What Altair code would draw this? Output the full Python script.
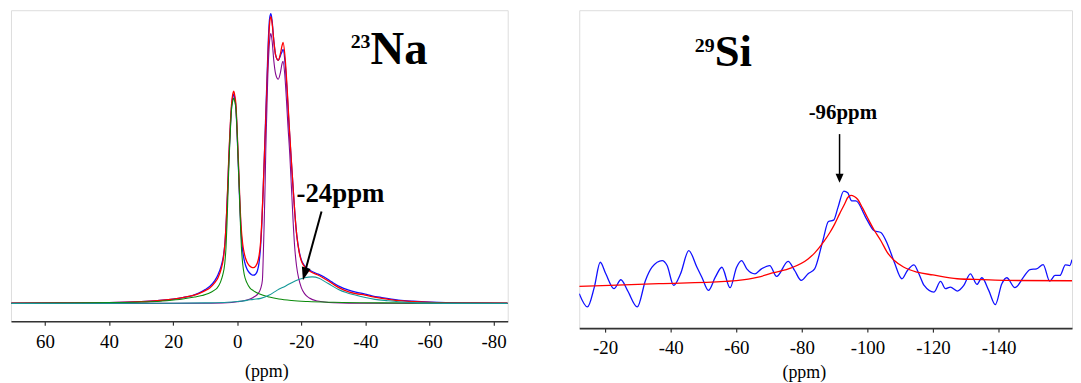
import altair as alt
import pandas as pd

FONT = "Liberation Serif"

# ---------------- 23Na panel (chemical shift in ppm, intensity a.u.) ----------------
na_ppm = [70.5, 55, 40, 30, 25, 20, 17, 14, 12, 10, 8.5, 7, 6, 5, 4.3, 3.8, 3.4, 3.0, 2.6, 2.2,
          1.8, 1.4, 1.1, 0.8, 0.4, 0.0, -0.4, -0.8, -1.2, -1.7, -2.3, -3.0, -3.8, -4.5, -5.06, -5.7,
          -6.3, -6.8, -7.3, -7.7, -8.1, -8.5, -8.9, -9.3, -9.7, -10.1, -10.5, -10.9, -11.4, -12.0,
          -12.8, -13.5, -14.0, -14.3, -15.0, -15.6, -16.2, -16.8, -17.4, -18.0, -18.6, -19.3, -20.0,
          -21.0, -22.0, -23.5, -25, -27, -29.6, -32, -34.8, -37, -39.9, -42, -45.1, -50.3, -55,
          -60.5, -70, -84.4]
na_fit_total = [0.3, 0.5, 0.9, 1.8, 2.8, 4.5, 6, 8, 10, 13, 16, 21, 26, 35, 46, 62, 85, 115, 150, 178,
                200, 211, 214, 210, 200, 172, 140, 105, 78, 60, 49, 42, 38, 36.5, 36.2, 37.5,
                41, 48, 62, 85, 115, 150, 185, 222, 258, 282, 289, 282, 265, 250,
                245, 252, 260, 263, 245, 215, 180, 148, 118, 90, 68, 52, 43,
                37, 34, 31, 29, 25.5, 20.2, 15.5, 11.8, 10, 8.5, 7, 5.2, 2.8, 2,
                1.2, 0.6, 0.3]
na_experimental = [0.3, 0.5, 0.9, 1.8, 2.8, 4.5, 6, 8, 10.5, 14, 17.5, 23, 29, 38, 48, 62, 84, 113, 147, 175,
                   197, 208, 211, 207, 197, 168, 135, 100, 72, 53, 42, 35, 31, 29, 28.5, 29.5,
                   33, 41, 58, 82, 115, 152, 190, 228, 265, 287, 292, 284, 265, 250,
                   245, 250, 254, 256, 240, 212, 178, 147, 118, 90, 68, 53, 44,
                   38, 35, 32, 30, 27, 21.5, 17, 13.5, 11.5, 9.5, 7.8, 6, 3.5, 2.3,
                   1.4, 0.6, 0.3]

na_site1_ppm = [70.5, 55, 40, 30, 22, 17, 13.3, 11, 9, 7.1, 6.3, 5.3, 4.5, 3.9, 3.5, 3.2, 2.9, 2.57,
                2.2, 1.8, 1.4, 1.1, 0.8, 0.4, 0.0, -0.3, -0.7, -1.0, -1.3, -1.7, -2.2, -3.0, -4.0,
                -5.0, -7.0, -10, -13, -17, -22, -30, -45, -84.4]
na_site1_int = [0.3, 0.5, 0.9, 1.5, 2.8, 4.5, 6.5, 8, 10, 13.5, 15.5, 21, 29, 40, 57, 80, 110, 143,
                170, 195, 204, 207, 204, 195, 170, 143, 110, 80, 57, 40, 29, 21, 15.5,
                13, 9.5, 6.5, 4.5, 3, 2, 1.2, 0.6, 0.2]

na_site2_ppm = [70.5, 30, 10, 3, 0, -2, -4, -5.3, -6.5, -7.3, -7.85, -8.1, -8.4, -8.7, -8.9, -9.2,
                -9.5, -9.9, -10.2, -10.5, -10.9, -11.4, -12.0, -12.8, -13.5, -14.0, -14.3, -14.8,
                -15.3, -15.8, -16.4, -16.9, -17.4, -17.9, -18.5, -19.2, -20.0, -21.0, -22.5, -25,
                -30, -40, -84.4]
na_site2_int = [0, 0.1, 0.3, 0.8, 1.8, 2.8, 4.5, 6.8, 10, 15, 23.5, 45, 80, 120, 153, 190,
                225, 255, 268, 272, 264, 245, 231, 226, 233, 242, 244, 232,
                208, 180, 150, 118, 85, 58, 38, 25, 16, 10, 5.5, 2.5,
                0.8, 0.2, 0]

na_site3_ppm = [70.5, 20, 10, 3, 0, -3, -5, -7.35, -10, -12.5, -15, -17, -19.2, -21, -23.4, -25.5,
                -27.5, -29.5, -31.6, -34, -36.8, -40, -43, -47, -50.3, -55, -60.5, -70, -84.4]
na_site3_int = [0, 0.3, 0.6, 1.2, 2, 3.2, 4.2, 5.2, 8.5, 13.5, 17.5, 21, 24.2, 26, 26.8, 25.5,
                21.8, 18, 14.2, 11, 8.5, 6, 4.2, 2.8, 1.8, 0.9, 0.4, 0.1, 0]

na_ticks = [60, 40, 20, 0, -20, -40, -60, -80]

# ---------------- 29Si panel ----------------
si_exp_ppm = [-12.1, -14.6, -16.7, -18.5, -20.2, -22.7, -24.8, -26.8, -29.8, -32.3, -34.3, -37.4,
              -38.9, -40.9, -43.0, -45.5, -48.0, -49.5, -51.5, -53.6, -55.6, -58.1, -60.1, -61.6,
              -63.2, -65.7, -67.7, -70.2, -72.3, -75.8, -77.8, -79.8, -81.9, -83.9, -86.4, -88.1,
              -89.7, -91.0, -92.8, -94.0, -95.2, -96.5, -99.5, -102.1, -104.1, -106.1, -108.2,
              -110.5, -112.2, -114.2, -115.7, -117.3, -120.3, -122.3, -123.8, -125.3, -127.4,
              -129.4, -131.4, -133.4, -134.9, -137.0, -139.0, -141.0, -142.5, -145.0, -147.6,
              -149.6, -151.6, -153.6, -155.6, -157.2, -158.7, -160.4, -161.7, -162.4]
si_exp_int = [36.7, 23.3, 43.3, 68.3, 56.7, 41.7, 50.7, 40, 23.3, 50, 63.3, 70,
              65, 45, 56.7, 80, 63.3, 53.3, 40, 53.3, 63.3, 42.7, 63.3, 70,
              61.7, 56.7, 61.7, 65, 54, 69.3, 60, 50, 56.7, 61.7, 90, 109.3,
              110.7, 123.3, 140, 138.3, 130, 130, 113.3, 100, 98.3, 86.7, 68.3,
              51.7, 60, 65.7, 56.7, 45, 38.3, 49, 41.7, 43.3, 39.3,
              45, 56.7, 46, 52.7, 40, 25.7, 46.7, 52.7, 42.7, 53.3,
              61, 61.7, 66, 49.3, 55, 55, 65.7, 65, 71]

si_fit_ppm = [-12.1, -36.4, -56.6, -60, -66.7, -71, -76.8, -81.9, -84, -86.9, -88.5, -90, -91.5,
              -93, -94, -95, -96, -97, -98.5, -100, -102, -104.1, -106, -108.2, -111, -115.2,
              -120, -127.4, -135, -142.5, -162.4]
si_fit_int = [44, 46.7, 49, 49.8, 53.3, 57.5, 62.7, 71.7, 78, 90, 98, 106.7, 117,
              126.7, 133.5, 135.7, 134.5, 131.7, 123, 113.3, 101, 90, 78.5, 70, 63.5, 58.3,
              55.5, 51.7, 50.8, 50, 49.7]

si_ticks = [-20, -40, -60, -80, -100, -120, -140]

# ---------------- helpers ----------------
def xaxis(values, title_x, title_y):
    return alt.Axis(values=values, title="(ppm)", labelExpr="'' + datum.value",
                    labelFont=FONT, labelFontSize=19, labelColor="#000", labelPadding=7,
                    labelFlush=False, labelOverlap=False,
                    tickSize=4, tickColor="#333", tickWidth=1.2,
                    domainColor="#333", domainWidth=1.6, grid=False,
                    titleFont=FONT, titleFontSize=18, titleFontWeight="normal", titleColor="#000",
                    titleX=title_x, titleY=title_y, titleBaseline="middle")


def build_panel(curves, texts, arrows, heads, xs, ys, axis, width, height):
    layers = []
    for xs_vals, ys_vals, color, sw in curves:
        df = pd.DataFrame({"ppm": xs_vals, "v": ys_vals})
        layers.append(alt.Chart(df).mark_line(color=color, strokeWidth=sw, interpolate="monotone",
                                              clip=True).encode(
            x=alt.X("ppm:Q", scale=xs, axis=axis),
            y=alt.Y("v:Q", scale=ys, axis=None)))
    for (px, py), (qx, qy), w in arrows:
        dfl = pd.DataFrame({"ppm": [px], "v": [py], "ppm2": [qx], "v2": [qy]})
        layers.append(alt.Chart(dfl).mark_rule(color="black", strokeWidth=w).encode(
            x=alt.X("ppm:Q", scale=xs, axis=axis), y=alt.Y("v:Q", scale=ys, axis=None),
            x2="ppm2:Q", y2="v2:Q"))
    for (hx, hy), shape, angle in heads:
        dfh = pd.DataFrame({"ppm": [hx], "v": [hy]})
        layers.append(alt.Chart(dfh).mark_point(shape=shape, size=49, filled=True, color="black",
                                                opacity=1, angle=angle, strokeWidth=0).encode(
            x=alt.X("ppm:Q", scale=xs, axis=axis), y=alt.Y("v:Q", scale=ys, axis=None)))
    for label, tx, ty, size, align in texts:
        dft = pd.DataFrame({"ppm": [tx], "v": [ty], "t": [label]})
        layers.append(alt.Chart(dft).mark_text(font=FONT, fontSize=size, fontWeight="bold",
                                               color="black", align=align,
                                               baseline="alphabetic").encode(
            x=alt.X("ppm:Q", scale=xs, axis=axis), y=alt.Y("v:Q", scale=ys, axis=None),
            text="t:N"))
    return alt.layer(*layers).properties(width=width, height=height)


# ---------------- left panel ----------------
na_xs = alt.Scale(domain=[70.6, -84.4], nice=False, zero=False)
na_ys = alt.Scale(domain=[-17.8, 295.5], nice=False, zero=False)
na_axis = xaxis(na_ticks, 257, 51)

na_curves = [
    (na_ppm, na_experimental, "#1010ff", 1.3),
    (na_ppm, na_fit_total, "#ff0000", 1.3),
    (na_site2_ppm, na_site2_int, "#850a8f", 1.1),
    (na_site1_ppm, na_site1_int, "#0a8a0a", 1.1),
    (na_site3_ppm, na_site3_int, "#139898", 1.1),
]
na_texts = [
    ("Na", -41.6, 241.5, 47, "left"),
    ("23", -41.6, 257.5, 20, "right"),
    ("-24ppm", -32.2, 102.5, 27, "center"),
]
na_arrows = [((-26.3, 92.8), (-20.9, 29.0), 2)]
na_heads = [((-20.5, 23.5), "M-1.3,-3.7L1.3,-3.7L0,0Z", 15)]
left = build_panel(na_curves, na_texts, na_arrows, na_heads, na_xs, na_ys, na_axis, 500, 313)

# ---------------- right panel ----------------
si_xs = alt.Scale(domain=[-12.1, -162.4], nice=False, zero=False)
si_ys = alt.Scale(domain=[2, 322], nice=False, zero=False)
si_axis = xaxis(si_ticks, 226, 45)

si_curves = [
    (si_exp_ppm, si_exp_int, "#1010ff", 1.3),
    (si_fit_ppm, si_fit_int, "#ff0000", 1.3),
]
si_texts = [
    ("Si", -53.4, 266, 45, "left"),
    ("29", -53.4, 280, 20, "right"),
    ("-96ppm", -92.5, 212.3, 21, "center"),
]
si_arrows = [((-91.5, 197.3), (-91.5, 153.0), 1.5)]
si_heads = [((-91.5, 148.3), "M-1.15,-2.6L1.15,-2.6L0,0Z", 0)]
right = build_panel(si_curves, si_texts, si_arrows, si_heads, si_xs, si_ys, si_axis, 496, 320)

chart = alt.hconcat(left, right, spacing=70).properties(
    padding={"left": 2, "top": 0, "right": 0, "bottom": 0}
).configure_view(stroke=None).configure(background="white")

chart.save("out.html", embed_options={"renderer": "svg", "actions": False})
